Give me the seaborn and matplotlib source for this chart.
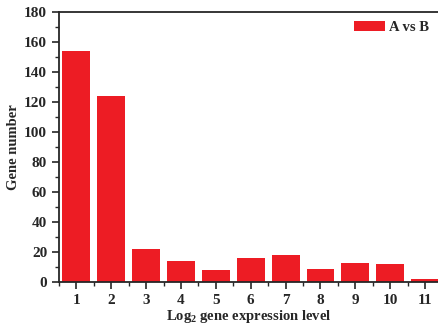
import pandas as pd
import matplotlib.pyplot as plt
import seaborn as sns
from matplotlib.ticker import MultipleLocator

levels = [1, 2, 3, 4, 5, 6, 7, 8, 9, 10, 11]
gene_counts = [154, 124, 22, 14, 8, 16, 18, 9, 13, 12, 2]
series_name = "A vs B"

sns.set_style("ticks")
plt.rcParams['font.family'] = ['Liberation Serif', 'DejaVu Serif']
plt.rcParams['font.weight'] = 'bold'
plt.rcParams['axes.labelweight'] = 'bold'
plt.rcParams['mathtext.fontset'] = 'custom'
plt.rcParams['mathtext.rm'] = 'Liberation Serif:bold'
plt.rcParams['mathtext.bf'] = 'Liberation Serif:bold'
plt.rcParams['mathtext.it'] = 'Liberation Serif:bold'

df = pd.DataFrame({'level': levels, 'count': gene_counts})

fig = plt.figure(figsize=(4.38, 3.27), dpi=100)
ax = fig.add_axes([0.1347, 0.1376, 0.8653, 0.8257])

sns.barplot(data=df, x='level', y='count', native_scale=True, width=0.8,
            color='#ED1C24', saturation=1, edgecolor='none', linewidth=0,
            label=series_name, ax=ax)

ax.set_xlim(0.5, 11.37)
ax.set_ylim(0, 180)
ax.xaxis.set_major_locator(MultipleLocator(1))
ax.xaxis.set_minor_locator(MultipleLocator(0.5))
ax.yaxis.set_major_locator(MultipleLocator(20))
ax.yaxis.set_minor_locator(MultipleLocator(10))
ax.tick_params(which='major', direction='out', length=5, width=1.2, labelsize=11)
ax.tick_params(which='minor', direction='out', length=3, width=1.0)
for side in ['left', 'bottom', 'top']:
    ax.spines[side].set_linewidth(1.3)
ax.spines['right'].set_visible(False)

ax.set_xlabel("Log$_{2}$ gene expression level", fontsize=10.5, labelpad=1)
ax.set_ylabel("Gene number", fontsize=10.5, labelpad=3)

ax.legend(loc='upper right', frameon=False, fontsize=10.5, handlelength=2.1,
          handleheight=0.75, handletextpad=0.3, borderaxespad=0.2,
          bbox_to_anchor=(1.0, 1.0))

fig.savefig('out.png', dpi=100)
